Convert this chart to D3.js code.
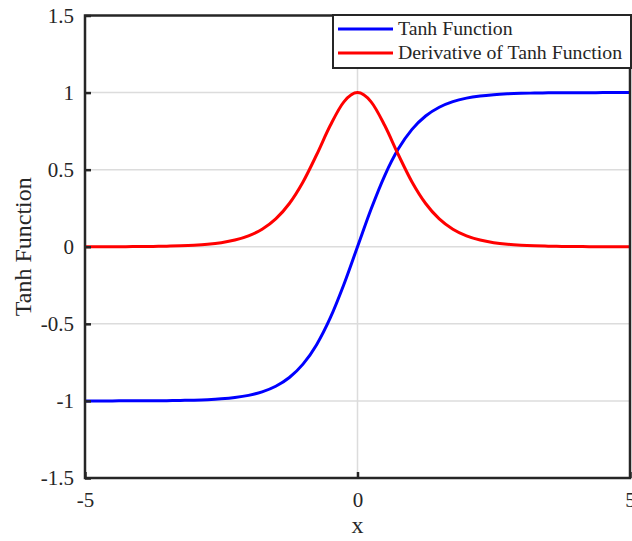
<!DOCTYPE html>
<html><head><meta charset="utf-8">
<script src="https://cdn.jsdelivr.net/npm/d3@7"></script>
<style>body{margin:0;background:#fff}svg{display:block}text{font-family:"Liberation Serif","Times New Roman",serif;fill:#262626}</style>
</head><body><svg id="c" width="632" height="541"></svg>
<script>
const xs = [-5,-4.75,-4.5,-4.25,-4,-3.75,-3.5,-3.25,-3,-2.75,-2.5,-2.25,-2,-1.75,-1.5,-1.25,-1,-0.75,-0.5,-0.25,0,0.25,0.5,0.75,1,1.25,1.5,1.75,2,2.25,2.5,2.75,3,3.25,3.5,3.75,4,4.25,4.5,4.75,5];
const tanhVals = [-0.9999,-0.9999,-0.9998,-0.9996,-0.9993,-0.9989,-0.9982,-0.9970,-0.9951,-0.9919,-0.9866,-0.9780,-0.9640,-0.9414,-0.9051,-0.8483,-0.7616,-0.6351,-0.4621,-0.2449,0,0.2449,0.4621,0.6351,0.7616,0.8483,0.9051,0.9414,0.9640,0.9780,0.9866,0.9919,0.9951,0.9970,0.9982,0.9989,0.9993,0.9996,0.9998,0.9999,0.9999];
const derivVals = [0.0002,0.0003,0.0005,0.0008,0.0013,0.0022,0.0036,0.0060,0.0099,0.0162,0.0266,0.0435,0.0707,0.1138,0.1807,0.2805,0.4200,0.5966,0.7864,0.9400,1,0.9400,0.7864,0.5966,0.4200,0.2805,0.1807,0.1138,0.0707,0.0435,0.0266,0.0162,0.0099,0.0060,0.0036,0.0022,0.0013,0.0008,0.0005,0.0003,0.0002];
const xTicks = [-5,0,5];
const yTicks = [-1.5,-1,-0.5,0,0.5,1,1.5];
const seriesNames = ["Tanh Function","Derivative of Tanh Function"];
const seriesColors = ["#0000ff","#ff0000"];

const L=85,R=630,T=15.5,B=478;
const svg=d3.select("#c");
const x=d3.scaleLinear().domain([-5,5]).range([L,R]);
const y=d3.scaleLinear().domain([-1.5,1.5]).range([B,T]);
const axisCol="#262626";
const serif='"Liberation Serif","Times New Roman",serif';

// grid
svg.append("g").selectAll("line").data(yTicks.slice(1,-1)).join("line")
  .attr("x1",L).attr("x2",R).attr("y1",d=>y(d)).attr("y2",d=>y(d))
  .attr("stroke","#dcdcdc").attr("stroke-width",1.5);
svg.append("g").selectAll("line").data(xTicks.slice(1,-1)).join("line")
  .attr("y1",T).attr("y2",B).attr("x1",d=>x(d)).attr("x2",d=>x(d))
  .attr("stroke","#dcdcdc").attr("stroke-width",1.5);

// lines
const series=[tanhVals,derivVals];
const line=d3.line().x((d,i)=>x(xs[i])).y(d=>y(d)).curve(d3.curveMonotoneX);
series.forEach((s,k)=>{
  svg.append("path").attr("d",line(s)).attr("fill","none")
    .attr("stroke",seriesColors[k]).attr("stroke-width",3);
});

// axes
const yAx=svg.append("g").attr("transform",`translate(${L},0)`)
  .call(d3.axisLeft(y).tickValues(yTicks).tickSize(-6).tickPadding(11).tickFormat(d=>String(d)));
const xAx=svg.append("g").attr("transform",`translate(0,${B})`)
  .call(d3.axisBottom(x).tickValues(xTicks).tickSize(-6).tickPadding(14).tickFormat(d=>String(d)));
[yAx,xAx].forEach(a=>{
  a.attr("font-family",serif);
  a.select(".domain").remove();
  a.selectAll(".tick line").attr("stroke",axisCol).attr("stroke-width",2.5);
  a.selectAll(".tick text").style("font-size","21px").style("font-family",serif).attr("fill",axisCol);
});
// box
svg.append("rect").attr("x",L).attr("y",T).attr("width",R-L).attr("height",B-T)
  .attr("fill","none").attr("stroke",axisCol).attr("stroke-width",2.5);

// labels
svg.append("text").attr("x",(L+R)/2).attr("y",533).attr("text-anchor","middle")
  .style("font-size","24px").text("x");
svg.append("text").attr("transform",`translate(31,${(T+B)/2}) rotate(-90)`).attr("text-anchor","middle")
  .style("font-size","24px").text("Tanh Function");

// legend
const lg=svg.append("g");
lg.append("rect").attr("x",333).attr("y",15).attr("width",298).attr("height",53)
  .attr("fill","#fff").attr("stroke",axisCol).attr("stroke-width",2);
seriesNames.forEach((n,i)=>{
  const yy=29+i*24;
  lg.append("line").attr("x1",338).attr("x2",393).attr("y1",yy).attr("y2",yy)
    .attr("stroke",seriesColors[i]).attr("stroke-width",3);
  lg.append("text").attr("x",398).attr("y",yy+6).style("font-size","19.8px").attr("fill","#000").text(n);
});
</script></body></html>
